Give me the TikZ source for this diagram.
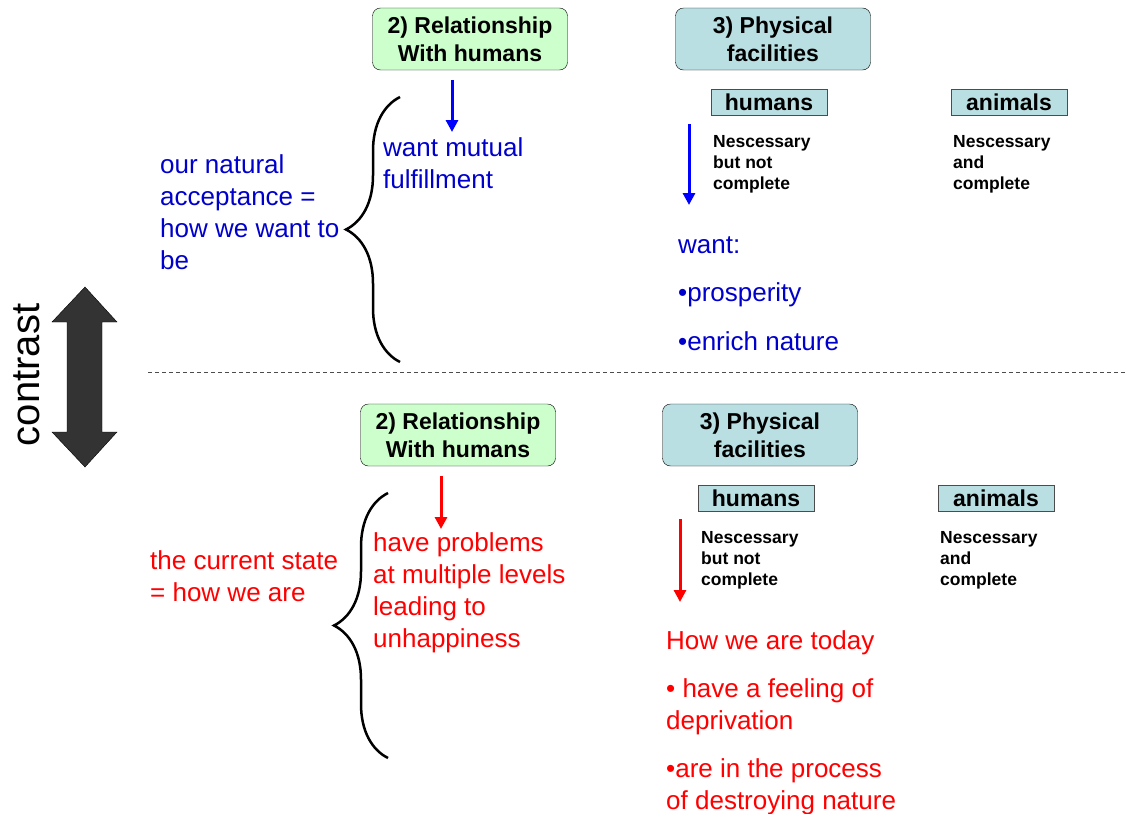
\documentclass[tikz,border=0pt]{standalone}
\usepackage{fontspec}
\setmainfont{Liberation Sans}
\usetikzlibrary{arrows.meta,decorations.pathreplacing}
\definecolor{boxgreen}{HTML}{CCFFCC}
\definecolor{boxcyan}{HTML}{B9DFE2}
\definecolor{textblue}{HTML}{0000CC}
\definecolor{textred}{HTML}{FF0000}
\begin{document}
\begin{tikzpicture}[x=1pt,y=-1pt,
  titlebox/.style={draw,rounded corners=8pt,minimum width=195pt,minimum height=62pt,align=center,inner sep=0pt,font=\fontsize{23}{28}\selectfont\bfseries},
  tagbox/.style={draw=black!70,fill=boxcyan,minimum width=116pt,minimum height=26pt,inner sep=0pt,font=\fontsize{23}{26}\selectfont\bfseries},
  note/.style={anchor=base west,align=left,inner sep=0pt,font=\fontsize{17.5}{21}\selectfont\bfseries},
  say/.style={anchor=base west,align=left,inner sep=0pt,font=\fontsize{26}{32}\selectfont},
  pointer/.style={line width=3pt,-{Triangle[width=12pt,length=12pt]}},
  curly/.style={decorate,decoration={brace,amplitude=54pt},line width=2.5pt}]
\useasboundingbox (0,0) rectangle (1128,814);

% upper half: how we want to be (text nodes sit on their last baseline)
\node[titlebox,fill=boxgreen] (relA) at (470,39) {2) Relationship\\With humans};
\node[titlebox,fill=boxcyan] (physA) at (773,39) {3) Physical\\facilities};
\node[tagbox] (humA) at (769,102) {humans};
\node[tagbox] (aniA) at (1009,102) {animals};
\node[note] (humNoteA) at (713,189) {Nescessary\\but not\\complete};
\node[note] (aniNoteA) at (953,189) {Nescessary\\and\\complete};
\node[say,textblue] (wantA) at (160,269) {our natural\\acceptance =\\how we want to\\be};
\node[say,textblue] (mutualA) at (383,188) {want mutual\\fulfillment};
\node[say,textblue] (goalA) at (678,350) {want:\\[16.5pt]\textbullet prosperity\\[16.5pt]\textbullet enrich nature};
\coordinate (relArrA) at (452,80);
\coordinate (relTipA) at (452,132);
\coordinate (physArrA) at (689,124);
\coordinate (physTipA) at (689,205);
\path (relArrA) edge[pointer,blue] (relTipA)
      (physArrA) edge[pointer,blue] (physTipA);
\draw[curly] (400,362) -- (400,97);

% divider and contrast arrow
\draw[black!70,dash pattern=on 4pt off 3pt] (148,372) -- (1128,372);
\filldraw[draw=black,fill=black!80] (85,287) -- (117,322) -- (102,322) -- (102,432) -- (117,432)
  -- (85,467) -- (52,432) -- (67,432) -- (67,322) -- (52,322) -- cycle;
\node[rotate=90,inner sep=0pt,font=\fontsize{40}{44}\selectfont] (contrast) at (27,375) {contrast};

% lower half: how we are
\node[titlebox,fill=boxgreen] (relB) at (458,435) {2) Relationship\\With humans};
\node[titlebox,fill=boxcyan] (physB) at (760,435) {3) Physical\\facilities};
\node[tagbox] (humB) at (756,498) {humans};
\node[tagbox] (aniB) at (996,498) {animals};
\node[note] (humNoteB) at (701,585) {Nescessary\\but not\\complete};
\node[note] (aniNoteB) at (940,585) {Nescessary\\and\\complete};
\node[say,textred] (stateB) at (150,601) {the current state\\= how we are};
\node[say,textred] (problemB) at (373,647) {have problems\\at multiple levels\\leading to\\unhappiness};
\node[say,textred] (todayB) at (666,809) {How we are today\\[16pt]\textbullet{} have a feeling of\\deprivation\\[16pt]\textbullet are in the process\\of destroying nature};
\coordinate (relArrB) at (441,476);
\coordinate (relTipB) at (441,529);
\coordinate (physArrB) at (680,519);
\coordinate (physTipB) at (680,602);
\path (relArrB) edge[pointer,textred] (relTipB)
      (physArrB) edge[pointer,textred] (physTipB);
\draw[curly] (388,758) -- (388,493);
\end{tikzpicture}
\end{document}
